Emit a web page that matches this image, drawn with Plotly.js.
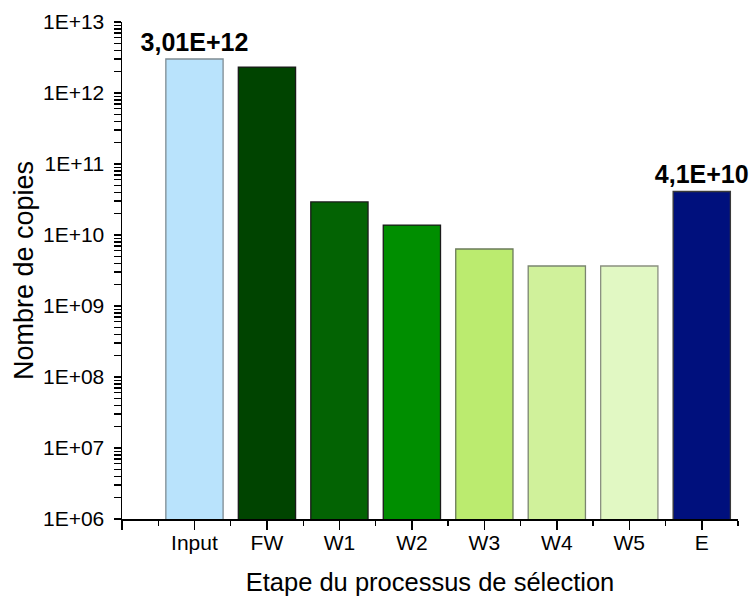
<!DOCTYPE html>
<html>
<head>
<meta charset="utf-8">
<script src="https://cdn.plot.ly/plotly-3.0.1.min.js"></script>
<style>html,body{margin:0;padding:0;background:#fff;}#chart{width:751px;height:596px;}</style>
</head>
<body>
<div id="chart"></div>
<script>
var categories = ["Input", "FW", "W1", "W2", "W3", "W4", "W5", "E"];
var copies = [3.01e12, 2.32e12, 2.92e10, 1.38e10, 6.35e9, 3.66e9, 3.66e9, 4.1e10];
var barLabels = ["3,01E+12", "", "", "", "", "", "", "4,1E+10"];
var barColors = ["#B9E3FC", "#004400", "#036303", "#008E00", "#BBEB6F", "#D0F19B", "#E1F8C3", "#00107D"];
var lineColors = ["#7F8C93", "#1A1A1A", "#1A1A1A", "#1A1A1A", "#6B7B5A", "#7A8570", "#8A9080", "#3A3A3A"];
var yTickVals = [1e6, 1e7, 1e8, 1e9, 1e10, 1e11, 1e12, 1e13];
var yTickText = ["1E+06", "1E+07", "1E+08", "1E+09", "1E+10", "1E+11", "1E+12", "1E+13"];

// full tick set: labelled decades plus unlabelled 2..9 x each decade
var allTickVals = [], allTickText = [];
for (var d = 0; d < yTickVals.length; d++) {
  allTickVals.push(yTickVals[d]); allTickText.push(yTickText[d]);
  if (d < yTickVals.length - 1) {
    for (var m = 2; m <= 9; m++) { allTickVals.push(m * yTickVals[d]); allTickText.push(""); }
  }
}

var font = "Liberation Sans, Arial, sans-serif";

var trace = {
  type: "bar",
  x: categories,
  y: copies,
  text: barLabels,
  textposition: "outside",
  constraintext: "none",
  cliponaxis: false,
  textfont: {family: font, size: 25, color: "#000", weight: "bold"},
  marker: {color: barColors, line: {color: lineColors, width: 1.3}},
  hoverinfo: "x+y"
};
var helper = {
  type: "scatter", x: [-1, 7.5], y: [1e6, 1e6], xaxis: "x2", yaxis: "y",
  mode: "none", showlegend: false, hoverinfo: "skip"
};

var layout = {
  width: 751, height: 596,
  margin: {l: 122, r: 13, t: 22, b: 77},
  paper_bgcolor: "#fff", plot_bgcolor: "#fff",
  showlegend: false,
  bargap: 0.21,
  font: {family: font, color: "#000"},
  xaxis: {
    type: "category", range: [-1, 7.5],
    showline: false, ticks: "", showgrid: false, zeroline: false,
    tickfont: {family: font, size: 21, color: "#000"},
    ticklabelstandoff: 9,
    title: {text: "Etape du processus de sélection", font: {family: font, size: 25.5, color: "#000"}, standoff: 20}
  },
  xaxis2: {
    overlaying: "x", side: "bottom", anchor: "y", type: "linear", range: [-1, 7.5],
    showline: true, linecolor: "#000", linewidth: 1.5, showgrid: false, zeroline: false,
    tickmode: "linear", tick0: -1, dtick: 1, ticks: "outside", ticklen: 9, tickwidth: 1.5, tickcolor: "#000",
    showticklabels: false,
    minor: {ticks: "outside", tick0: -0.5, dtick: 1, ticklen: 5, tickwidth: 1.3, tickcolor: "#000", showgrid: false}
  },
  yaxis: {
    type: "log", range: [6, 13],
    showline: true, linecolor: "#000", linewidth: 1.5, showgrid: false, zeroline: false,
    tickmode: "array", tickvals: allTickVals, ticktext: allTickText,
    ticks: "outside", ticklen: 7, tickwidth: 1.3, tickcolor: "#000",
    ticklabelstandoff: 5,
    tickfont: {family: font, size: 21, color: "#000"},
    title: {text: "Nombre de copies", font: {family: font, size: 27, color: "#000"}, standoff: 1}
  }
};

Plotly.newPlot("chart", [trace, helper], layout, {displayModeBar: false, staticPlot: true});
</script>
</body>
</html>
